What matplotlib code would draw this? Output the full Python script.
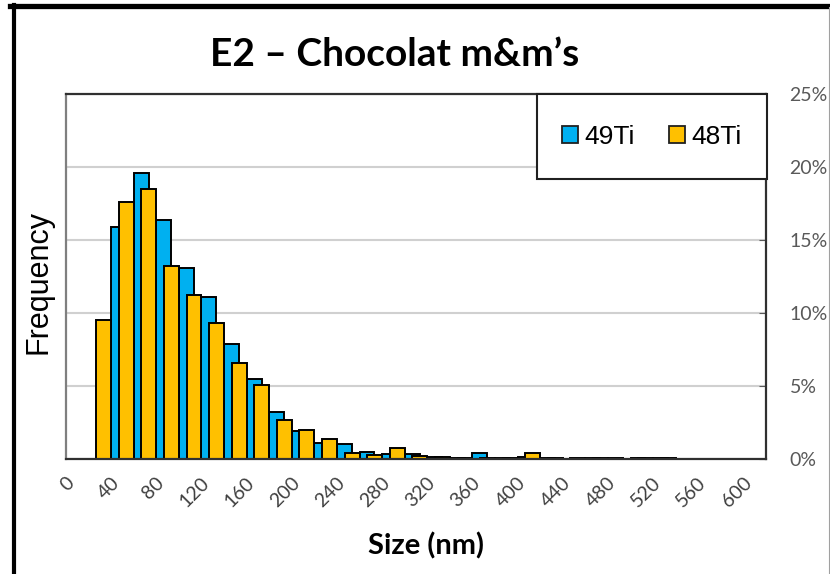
import matplotlib

matplotlib.use("Agg")
import matplotlib.pyplot as plt
import numpy as np
from matplotlib.lines import Line2D
from matplotlib.patches import Patch, Rectangle

# size bins (nm), one category every 20 nm
bins_nm = list(range(0, 620, 20))
# frequency in %
ti49 = [0, 0, 15.9, 19.6, 16.4, 13.1, 11.1, 7.85, 5.45, 3.25, 1.95, 1.1, 1.05, 0.5,
        0.35, 0.35, 0.12, 0.1, 0.4, 0.1, 0.12, 0.1, 0.0, 0.1, 0.1, 0.1, 0.1,
        0, 0, 0, 0]
ti48 = [0, 9.5, 17.6, 18.5, 13.2, 11.2, 9.3, 6.55, 5.05, 2.7, 2.0, 1.35, 0.4, 0.3,
        0.75, 0.2, 0.12, 0.1, 0.1, 0.1, 0.4, 0.1, 0.1, 0.1, 0.0, 0.1, 0.1,
        0, 0, 0, 0]
series_names = ["49Ti", "48Ti"]
colors = ["#00B0F0", "#FFC000"]
y_ticks = [0, 5, 10, 15, 20, 25]

W, H = 830, 574
fig = plt.figure(figsize=(W / 100, H / 100), dpi=100)
ax = fig.add_axes([66 / W, 1 - 459 / H, 700 / W, 365 / H])

x = np.arange(len(bins_nm))
w = 0.66
ax.bar(x - 0.17, ti49, w, color=colors[0], edgecolor="black", linewidth=1.4, zorder=3)
ax.bar(x + 0.17, ti48, w, color=colors[1], edgecolor="black", linewidth=1.4, zorder=4)

ax.set_xlim(-0.5, len(bins_nm) - 0.5)
ax.set_ylim(0, 25)
ax.set_xticks(x[::2])
ax.set_xticklabels([str(b) for b in bins_nm[::2]], rotation=45, ha="right", va="top",
                   fontsize=14, family="Lato", color="#404040")
ax.tick_params(axis="x", length=0, pad=11)

ax.yaxis.tick_right()
ax.set_yticks(y_ticks)
ax.set_yticklabels([f"{v}%" for v in y_ticks], fontsize=14, family="Lato", color="#595959")
ax.tick_params(axis="y", direction="in", length=5, color="#595959", pad=17)
ax.grid(axis="y", color="#d0d0d0", linewidth=1.5, zorder=0)
ax.set_axisbelow(True)

for side, sp in ax.spines.items():
    sp.set_linewidth(1.6)
    sp.set_color("#7f7f7f" if side == "left" else "#303030")
    sp.set_zorder(5)

# legend box overlapping the top right corner
ax.add_patch(Rectangle((0.673, 0.767), 0.328, 0.233, transform=ax.transAxes,
                       facecolor="white", edgecolor="#202020", linewidth=1.5,
                       zorder=6, clip_on=False))
handles = [Patch(facecolor=c, edgecolor="#202020", linewidth=1.3) for c in colors]
leg = ax.legend(handles, series_names, loc="center", bbox_to_anchor=(0.837, 0.883),
                ncol=2, frameon=False, handlelength=0.6, handleheight=0.6,
                handletextpad=0.25, columnspacing=1.3,
                prop={"family": "Liberation Sans", "size": 19})
leg.set_zorder(7)

fig.text(395 / W, 1 - 54 / H, "E2 – Chocolat m&m’s", ha="center", va="center",
         fontsize=28, fontweight="bold", family="Lato")
fig.text(38 / W, 1 - 282 / H, "Frequency", ha="center", va="center", rotation=90,
         fontsize=22, family="Liberation Sans")
fig.text(426 / W, 1 - 546 / H, "Size (nm)", ha="center", va="center",
         fontsize=21, fontweight="bold", family="Lato")

# outer border of the screenshot
fig.add_artist(Line2D([10 / W, 1], [1 - 5.5 / H] * 2, color="black", linewidth=3.8))
fig.add_artist(Line2D([14 / W] * 2, [0, 1 - 5 / H], color="black", linewidth=3.0))
fig.add_artist(Line2D([828.5 / W] * 2, [0, 1 - 7 / H], color="#a0a0a0", linewidth=0.8))

fig.savefig("out.png", dpi=100)
